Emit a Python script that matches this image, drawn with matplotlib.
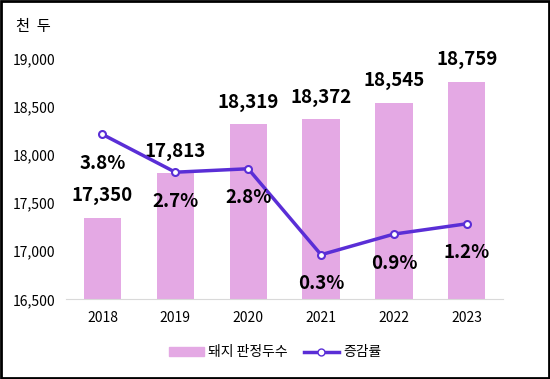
import matplotlib
matplotlib.use("Agg")
import matplotlib.pyplot as plt
from matplotlib.lines import Line2D
from matplotlib.patches import Patch

plt.rcParams['font.family'] = ['Noto Sans CJK KR', 'DejaVu Sans']

years = ["2018", "2019", "2020", "2021", "2022", "2023"]
pigs = [17350, 17813, 18319, 18372, 18545, 18759]
growth = [3.8, 2.7, 2.8, 0.3, 0.9, 1.2]
yticks = [16500, 17000, 17500, 18000, 18500, 19000]

bar_color = "#E4A9E4"
line_color = "#5A2ED6"

fig = plt.figure(figsize=(5.5, 3.79), dpi=100)
ax = fig.add_axes([0.12, 0.21, 0.795, 0.635])
x = list(range(len(years)))
ax.bar(x, pigs, width=0.51, color=bar_color, zorder=2)
ax.set_ylim(16500, 19000)
ax.set_xlim(-0.5, 5.5)
ax.set_yticks(yticks)
ax.set_yticklabels([f"{v:,}" for v in yticks], fontsize=10)
ax.set_xticks(x)
ax.set_xticklabels(years, fontsize=10)
for s in ["top", "right", "left"]:
    ax.spines[s].set_visible(False)
ax.spines["bottom"].set_color("#d9d9d9")
ax.tick_params(axis="both", length=0, pad=8)
ax.tick_params(axis="y", pad=8)
for xi, v in zip(x, pigs):
    ax.annotate(f"{v:,}", (xi, v), xytext=(0, 9), textcoords="offset points",
                ha="center", va="bottom", fontsize=13.5, fontweight="bold")

ax2 = ax.twinx()
ax2.set_ylim(-1, 6)
ax2.axis("off")
ax2.plot(x, growth, color=line_color, lw=2.5, marker="o", markersize=5,
         markerfacecolor="white", markeredgecolor=line_color, markeredgewidth=1.5, zorder=3)
for xi, v in zip(x, growth):
    ax2.annotate(f"{v}%", (xi, v), xytext=(0, -14), textcoords="offset points",
                 ha="center", va="top", fontsize=13.5, fontweight="bold")

fig.text(0.03, 0.93, "천  두", fontsize=11, ha="left", va="center")

handles = [Patch(color=bar_color, label="돼지 판정두수"),
           Line2D([0], [0], color=line_color, lw=2.5, marker="o", markersize=5,
                  markerfacecolor="white", markeredgecolor=line_color, label="증감률")]
fig.legend(handles=handles, loc="center", bbox_to_anchor=(0.5, 0.07), ncol=2,
           frameon=False, fontsize=10, handlelength=2.5, columnspacing=1.2, handletextpad=0.3)

fig.patches.append(plt.Rectangle((0.002, 0.003), 0.996, 0.994, transform=fig.transFigure,
                                 fill=False, edgecolor="black", lw=2))
fig.savefig("out.png", dpi=100)
